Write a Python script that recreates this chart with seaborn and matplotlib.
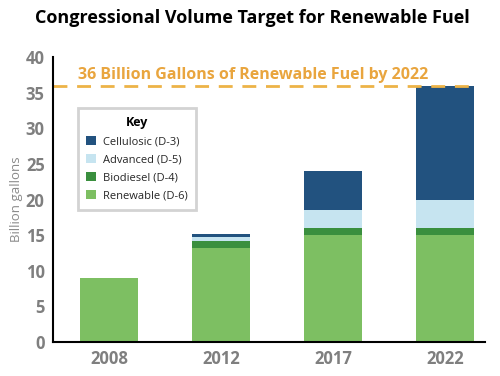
import numpy as np
import pandas as pd
import matplotlib.pyplot as plt
import seaborn as sns

years = ["2008", "2012", "2017", "2022"]
renewable = [9.0, 13.2, 15.0, 15.0]
biodiesel = [0.0, 1.0, 1.0, 1.0]
advanced = [0.0, 0.5, 2.5, 4.0]
cellulosic = [0.0, 0.5, 5.5, 16.0]
target = 36

layers = [
    ("Cellulosic (D-3)", cellulosic, "#22527f"),
    ("Advanced (D-5)", advanced, "#c6e4f0"),
    ("Biodiesel (D-4)", biodiesel, "#3a8f3e"),
    ("Renewable (D-6)", renewable, "#7dbf62"),
]

# cumulative heights, bottom layer first
stack_order = [renewable, biodiesel, advanced, cellulosic]
cum = np.cumsum(np.array(stack_order), axis=0)
cum_by_name = dict(zip(["Renewable (D-6)", "Biodiesel (D-4)", "Advanced (D-5)", "Cellulosic (D-3)"], cum))

sns.set_theme(style="white")
plt.rcParams["font.family"] = ["Open Sans", "DejaVu Sans"]

fig = plt.figure(figsize=(5, 3.76), dpi=100)
ax = fig.add_axes([0.106, 0.0904, 0.864, 0.758])

# draw tallest stack first, then overlay the lower layers
for name, vals, color in layers:
    df = pd.DataFrame({"year": years, "value": cum_by_name[name]})
    sns.barplot(data=df, x="year", y="value", color=color, width=0.52,
                saturation=1, ax=ax, label=name, linewidth=0)

ax.set_xlim(-0.5, 3.357)
ax.set_ylim(0, 40)
ax.set_yticks(range(0, 41, 5))

ax.plot([-0.5, 3.27], [target, target], color="#EDB347", lw=2,
        dashes=(5, 3.5), zorder=1, clip_on=False)
ax.text(-0.28, target + 0.3, "36 Billion Gallons of Renewable Fuel by 2022",
        color="#E9A53E", fontsize=11.5, fontweight="bold", va="bottom", ha="left")

for side in ["top", "right"]:
    ax.spines[side].set_visible(False)
for side in ["left", "bottom"]:
    ax.spines[side].set_color("black")
    ax.spines[side].set_linewidth(1.5)

ax.tick_params(axis="both", length=0, labelcolor="#7f7f7f", labelsize=12, pad=6)
for lab in ax.get_xticklabels() + ax.get_yticklabels():
    lab.set_fontweight("bold")
ax.set_xlabel("")
ax.set_ylabel("Billion gallons", color="#8a8a8a", fontsize=9.5)
ax.yaxis.set_label_coords(-0.069, 0.5)

handles, labels = ax.get_legend_handles_labels()
leg = ax.legend(handles, labels, title="Key", loc="upper left",
                bbox_to_anchor=(0.156, 0.713), bbox_transform=fig.transFigure,
                fontsize=8, title_fontproperties={"weight": "bold", "size": 9},
                frameon=True, fancybox=False, edgecolor="#c8c8c8",
                handlelength=0.9, handleheight=0.9, handletextpad=0.6,
                labelspacing=0.6, borderpad=0.75, borderaxespad=0)
leg.get_frame().set_linewidth(2)
leg.get_title().set_color("black")

fig.suptitle("Congressional Volume Target for Renewable Fuel", x=0.505, y=0.975,
             fontsize=13, fontweight="bold", color="black")

fig.savefig("out.png", dpi=100)
